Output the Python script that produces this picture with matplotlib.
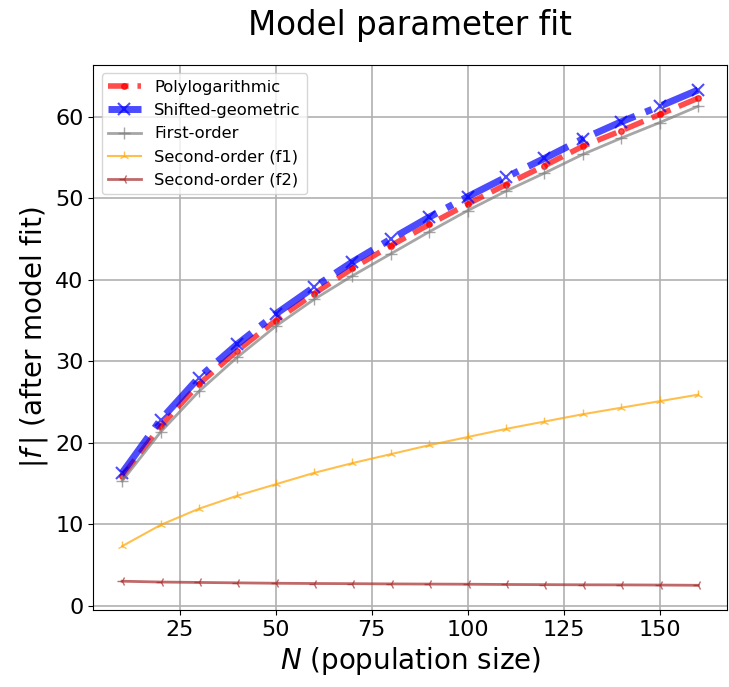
import matplotlib
matplotlib.use("Agg")
import matplotlib.pyplot as plt

N = [10, 20, 30, 40, 50, 60, 70, 80, 90, 100, 110, 120, 130, 140, 150, 160]

polylog = [15.9, 22.0, 27.2, 31.3, 35.0, 38.3, 41.4, 44.2, 46.8, 49.3,
           51.7, 54.0, 56.4, 58.3, 60.3, 62.3]
shifted_geo = [16.3, 22.8, 28.0, 32.1, 35.8, 39.1, 42.2, 45.0, 47.7, 50.2,
               52.6, 54.9, 57.3, 59.4, 61.3, 63.3]
first_order = [15.3, 21.3, 26.3, 30.5, 34.3, 37.6, 40.5, 43.2, 45.9, 48.5,
               50.9, 53.1, 55.4, 57.4, 59.3, 61.3]
second_f1 = [7.3, 9.9, 11.9, 13.5, 14.9, 16.3, 17.5, 18.6, 19.7, 20.7,
             21.7, 22.6, 23.5, 24.3, 25.1, 25.9]
second_f2 = [3.0, 2.9, 2.85, 2.8, 2.75, 2.72, 2.7, 2.67, 2.65, 2.63,
             2.6, 2.58, 2.56, 2.55, 2.53, 2.5]

xticks = [25, 50, 75, 100, 125, 150]

fig, ax = plt.subplots(figsize=(7.29, 6.87), dpi=100)
ax.plot(N, polylog, '--', marker='.', color='red', lw=4, ms=8, alpha=0.7,
        label='Polylogarithmic')
ax.plot(N, shifted_geo, '-.', marker='x', color='blue', lw=5, ms=9, mew=1.5,
        alpha=0.7, label='Shifted-geometric')
ax.plot(N, first_order, '-', marker='+', color='gray', lw=2, ms=9, alpha=0.7,
        label='First-order')
ax.plot(N, second_f1, '-', marker='2', color='orange', lw=1.5, ms=7, alpha=0.7,
        label='Second-order (f1)')
ax.plot(N, second_f2, '-', marker='3', color='brown', lw=2, ms=7, alpha=0.7,
        label='Second-order (f2)')

ax.set_title('Model parameter fit', fontsize=23.5, pad=22)
ax.set_xlabel('$N$ (population size)', fontsize=20)
ax.set_ylabel(r'$|f\,|$ (after model fit)', fontsize=20)
ax.set_xticks(xticks)
ax.tick_params(labelsize=16)
ax.grid(True, color='#b0b0b0', lw=1.2)
ax.legend(loc='upper left', fontsize=11.8)

fig.subplots_adjust(left=0.128, right=0.997, top=0.905, bottom=0.112)
fig.savefig('out.png', dpi=100)
